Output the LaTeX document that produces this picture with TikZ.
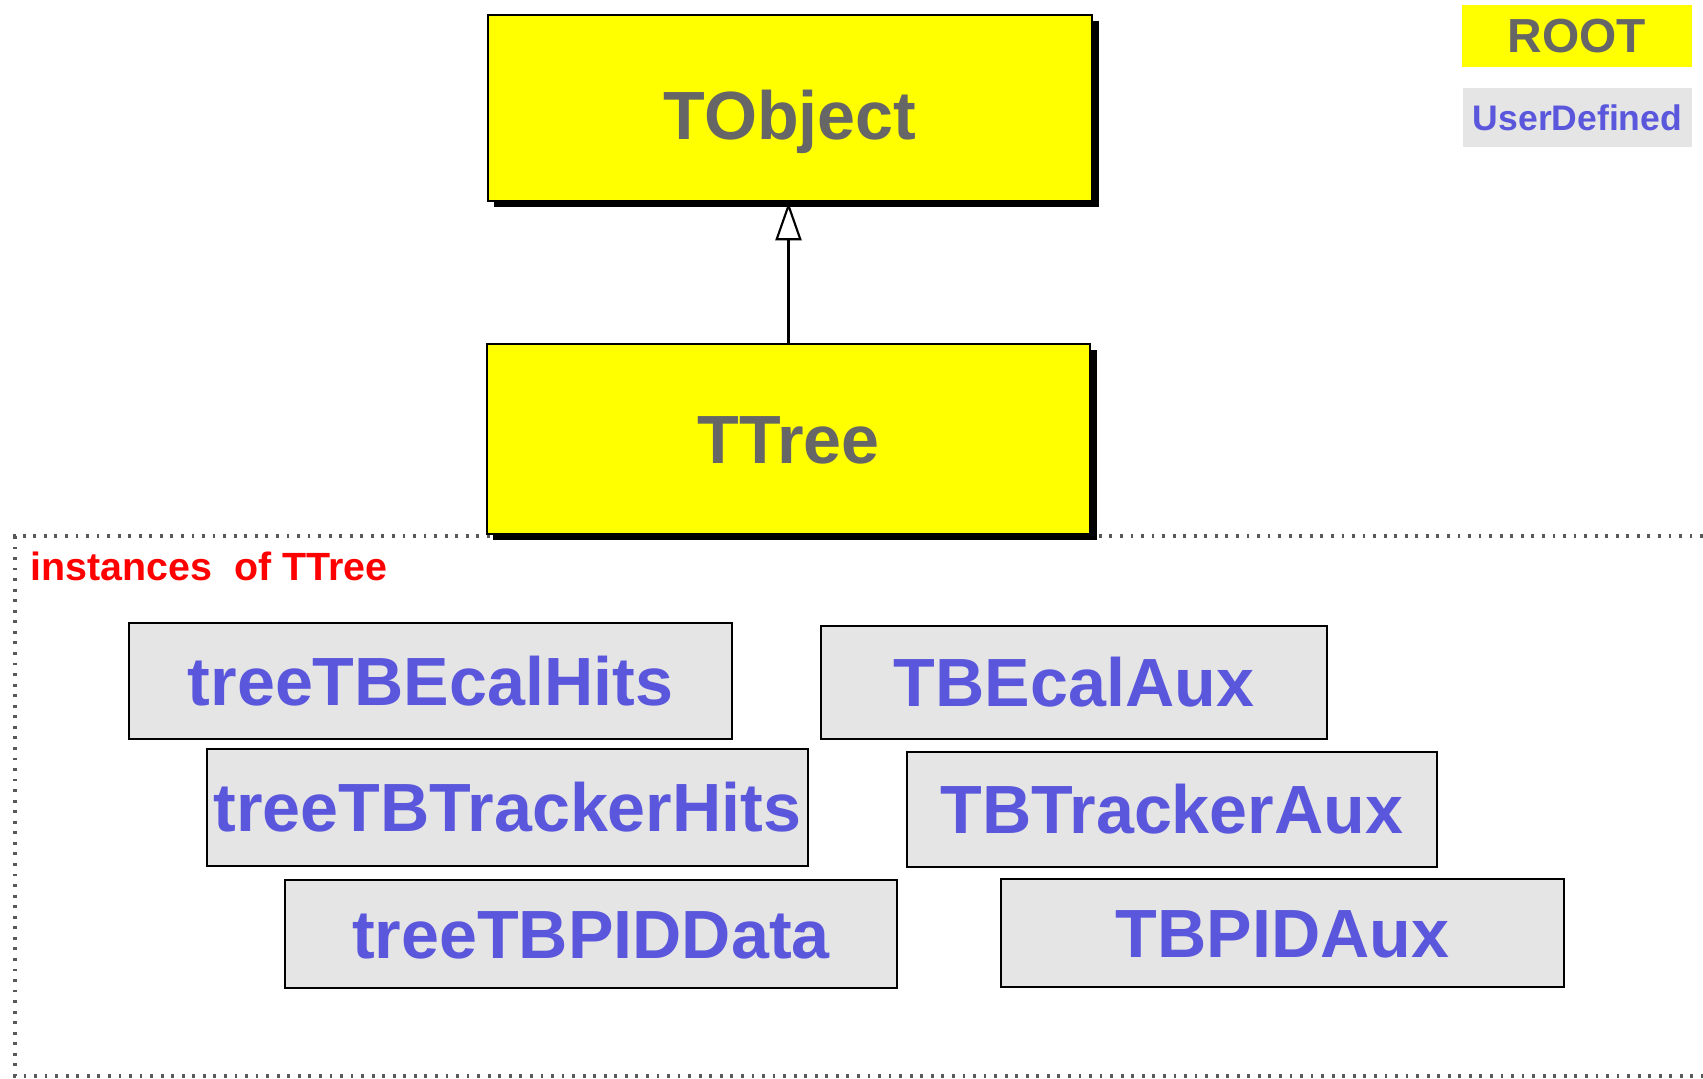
\documentclass[tikz,border=0pt]{standalone}
\usepackage{fontspec}
\setmainfont{Liberation Sans}
\usetikzlibrary{arrows.meta,shadows}

\definecolor{rootyellow}{RGB}{255,255,0}
\definecolor{rootgrey}{RGB}{102,102,102}
\definecolor{userblue}{RGB}{90,87,220}
\definecolor{userfill}{RGB}{229,229,229}

\begin{document}
\begin{tikzpicture}[x=0.01cm,y=-0.01cm]

    \tikzset{
      rootcls/.style={
        draw,
        line width=0.7pt,
        fill=rootyellow,
        text=rootgrey,
        inner sep=0pt,
        text height=13.9pt,
        text depth=0pt,
        font=\bfseries\fontsize{19.4}{23}\selectfont,
        drop shadow={fill=black,opacity=1,shadow xshift=1.8pt,shadow yshift=-1.8pt},
      },
      treeobj/.style={
        draw,
        line width=0.6pt,
        fill=userfill,
        text=userblue,
        inner sep=0pt,
        text height=13.9pt,
        text depth=0pt,
        font=\bfseries\fontsize{19.4}{23}\selectfont,
      },
    }
    \useasboundingbox (0,0) rectangle (1703,1078);

    % frame round the instances
    \draw[color={black!65}, line width=1pt, dash pattern=on 0.8pt off 2.2pt]
      (1703,536) -- (15,536) -- (15,1076) -- (1703,1076);
    \node[anchor=west, inner sep=0pt, text=red, font=\bfseries\fontsize{11.2}{13}\selectfont]
      (inst) at (30,566) {instances\ \ of TTree};

	\node[rootcls, text height=17.9pt, minimum width=6.04cm, minimum height=1.86cm] (tobject) at (790,108) {TObject};
	\node[rootcls, minimum width=6.03cm, minimum height=1.90cm] (ttree) at (788.5,439) {TTree};
	\draw[line width=0.6pt, -{Triangle[open,length=10.8pt,width=7.4pt]}]
	  (ttree.north) -- (ttree.north |- tobject.south);

	% legend
	\node[fill=rootyellow, text=rootgrey, inner sep=0pt, minimum width=2.30cm, minimum height=0.62cm,
	  font=\bfseries\fontsize{13.6}{16}\selectfont] (leg root) at (1577,36) {ROOT};
	\node[fill=userfill, text=userblue, inner sep=0pt, minimum width=2.29cm, minimum height=0.59cm,
	  font=\bfseries\fontsize{10.1}{12}\selectfont] (leg user) at (1577.5,117.5) {UserDefined};

	% the trees
	\node[treeobj, minimum width=6.03cm, minimum height=1.16cm] (ecalhits) at (430.5,681) {treeTBEcalHits};
	\node[treeobj, minimum width=5.06cm, minimum height=1.13cm] (ecalaux) at (1074,682.5) {TBEcalAux};
	\node[treeobj, minimum width=6.01cm, minimum height=1.17cm] (trackhits) at (507.5,807.5) {treeTBTrackerHits};
	\node[treeobj, minimum width=5.30cm, minimum height=1.15cm] (trackaux) at (1172,809.5) {TBTrackerAux};
	\node[treeobj, minimum width=6.12cm, minimum height=1.08cm] (piddata) at (591,934) {treeTBPIDData};
	\node[treeobj, minimum width=5.63cm, minimum height=1.08cm] (pidaux) at (1282.5,933) {TBPIDAux};

\end{tikzpicture}
\end{document}
